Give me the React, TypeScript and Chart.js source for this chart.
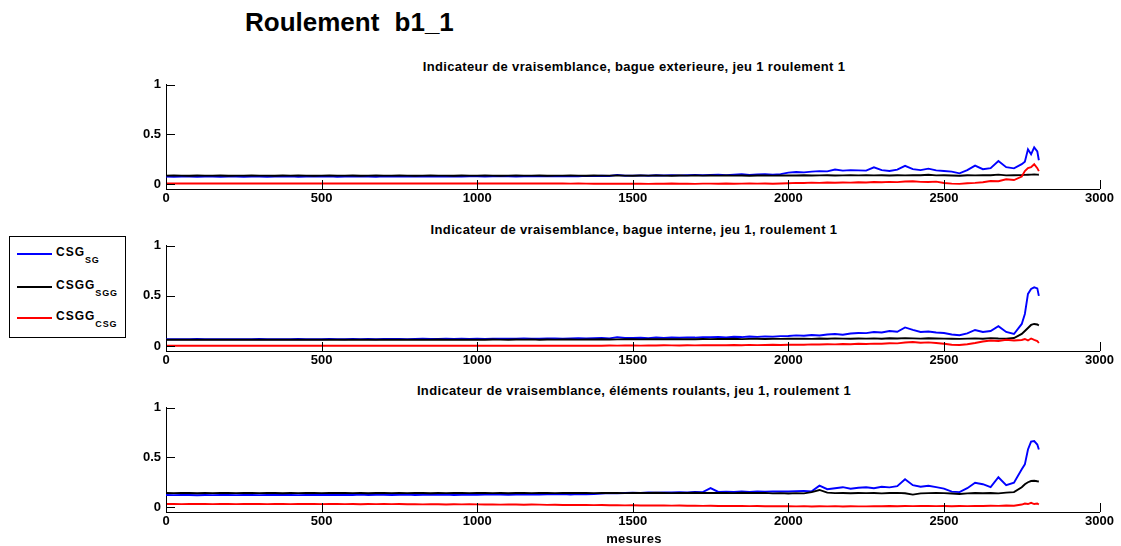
import { useEffect, useRef } from "react";
import { Chart, registerables } from "chart.js";

Chart.register(...registerables);

const FONT = "'Liberation Sans', Arial, Helvetica, sans-serif";

// measurement indices (x)
const X = [
  0, 25, 50, 75, 100, 125, 150, 175, 200, 225,
  250, 275, 300, 325, 350, 375, 400, 425, 450, 475,
  500, 525, 550, 575, 600, 625, 650, 675, 700, 725,
  750, 775, 800, 825, 850, 875, 900, 925, 950, 975,
  1000, 1025, 1050, 1075, 1100, 1125, 1150, 1175, 1200, 1225,
  1250, 1275, 1300, 1325, 1350, 1375, 1400, 1425, 1450, 1475,
  1500, 1525, 1550, 1575, 1600, 1625, 1650, 1675, 1700, 1725,
  1750, 1775, 1800, 1825, 1850, 1875, 1900, 1925, 1950, 1975,
  2000, 2025, 2050, 2075, 2100, 2125, 2150, 2175, 2200, 2225,
  2250, 2275, 2300, 2325, 2350, 2375, 2400, 2425, 2450, 2475,
  2500, 2525, 2550, 2575, 2600, 2625, 2650, 2675, 2700, 2725,
  2750, 2760, 2770, 2780, 2790, 2800, 2805,
];

const X_TICKS = [0, 500, 1000, 1500, 2000, 2500, 3000];
const Y_TICKS = [0, 0.5, 1];

// ---- subplot 1 : bague exterieure ----
const P1_BLUE = [
  .075, .074, .076, .075, .073, .076, .075, .074, .076, .075,
  .074, .076, .075, .073, .076, .075, .077, .074, .075, .076,
  .075, .077, .074, .076, .075, .078, .076, .074, .077, .075,
  .076, .078, .075, .077, .076, .079, .075, .077, .076, .078,
  .077, .076, .079, .077, .078, .076, .079, .078, .077, .080,
  .079, .078, .081, .079, .082, .080, .083, .081, .092, .084,
  .085, .087, .084, .088, .086, .090, .087, .089, .092, .088,
  .091, .093, .090, .094, .098, .092, .096, .099, .095, .100,
  .115, .122, .118, .125, .130, .128, .146, .135, .140, .138,
  .135, .168, .140, .132, .145, .183, .150, .140, .155, .138,
  .132, .125, .108, .140, .185, .150, .160, .232, .170, .158,
  .200, .225, .350, .300, .370, .330, .240,
];
const P1_BLACK = [
  .085, .086, .085, .084, .086, .085, .085, .086, .084, .085,
  .085, .086, .085, .085, .084, .086, .085, .086, .085, .084,
  .085, .086, .085, .085, .086, .084, .085, .086, .085, .085,
  .086, .085, .084, .085, .086, .085, .085, .084, .086, .085,
  .085, .086, .085, .084, .085, .086, .085, .085, .086, .084,
  .085, .085, .086, .085, .084, .086, .085, .085, .086, .085,
  .084, .086, .085, .086, .085, .084, .086, .085, .086, .085,
  .086, .085, .087, .085, .086, .084, .086, .087, .085, .086,
  .087, .086, .088, .086, .087, .088, .086, .087, .089, .087,
  .088, .087, .089, .086, .088, .087, .089, .088, .094, .087,
  .088, .086, .083, .088, .087, .089, .088, .095, .087, .089,
  .090, .092, .094, .095, .096, .095, .094,
];
const P1_RED = [
  .005, .006, .005, .005, .006, .005, .005, .005, .006, .005,
  .005, .005, .006, .005, .005, .005, .006, .005, .005, .005,
  .005, .006, .005, .005, .005, .006, .005, .005, .006, .005,
  .005, .005, .006, .005, .005, .005, .005, .006, .005, .005,
  .005, .005, .005, .006, .005, .005, .005, .005, .005, .005,
  .005, .005, .004, .005, .004, .003, .004, .003, .004, .003,
  .003, .004, .002, .004, .003, .005, .003, .004, .002, .004,
  .004, .003, .005, .003, .004, .006, .004, .005, .003, .005,
  .008, .012, .010, .014, .012, .015, .013, .016, .014, .018,
  .016, .020, .018, .022, .019, .025, .028, .022, .020, .024,
  .010, .004, .002, .008, .012, .018, .030, .028, .048, .040,
  .075, .130, .160, .170, .200, .160, .130,
];

// ---- subplot 2 : bague interne ----
const P2_BLUE = [
  .068, .069, .067, .068, .070, .068, .067, .069, .068, .067,
  .069, .068, .070, .067, .068, .069, .068, .070, .068, .069,
  .068, .070, .069, .068, .071, .069, .070, .068, .071, .070,
  .070, .069, .071, .072, .070, .071, .073, .070, .072, .071,
  .072, .071, .073, .072, .074, .072, .075, .073, .074, .076,
  .075, .074, .076, .078, .075, .077, .079, .076, .088, .080,
  .080, .082, .079, .084, .081, .085, .083, .086, .084, .088,
  .087, .090, .086, .092, .089, .094, .091, .096, .093, .098,
  .100, .106, .102, .110, .105, .115, .120, .112, .125, .130,
  .128, .140, .135, .150, .142, .185, .160, .140, .145, .135,
  .130, .115, .108, .125, .160, .140, .150, .198, .140, .120,
  .220, .320, .520, .570, .585, .575, .500,
];
const P2_BLACK = [
  .062, .063, .062, .064, .063, .062, .063, .064, .062, .063,
  .063, .062, .064, .063, .062, .063, .064, .062, .063, .064,
  .063, .064, .062, .063, .064, .063, .062, .064, .063, .062,
  .064, .063, .062, .064, .063, .065, .063, .064, .062, .063,
  .064, .063, .065, .064, .063, .065, .064, .066, .063, .065,
  .064, .066, .065, .064, .066, .065, .067, .065, .066, .068,
  .067, .066, .068, .067, .069, .068, .067, .069, .068, .070,
  .069, .071, .070, .072, .069, .071, .073, .070, .072, .071,
  .072, .074, .073, .071, .075, .073, .076, .074, .072, .075,
  .074, .076, .073, .077, .075, .078, .076, .074, .077, .075,
  .074, .072, .071, .074, .076, .073, .078, .075, .074, .080,
  .120, .150, .180, .210, .220, .215, .205,
];
const P2_RED = [
  .002, .003, .002, .002, .003, .002, .002, .003, .002, .002,
  .002, .002, .003, .002, .002, .003, .002, .002, .003, .002,
  .003, .002, .002, .003, .002, .002, .003, .002, .002, .003,
  .002, .003, .002, .002, .003, .002, .003, .002, .002, .003,
  .002, .002, .003, .002, .003, .002, .002, .003, .003, .002,
  .003, .002, .004, .003, .003, .004, .003, .005, .004, .005,
  .005, .004, .006, .005, .007, .006, .005, .007, .006, .008,
  .007, .009, .008, .010, .008, .011, .009, .010, .012, .010,
  .012, .014, .013, .016, .015, .018, .016, .020, .018, .022,
  .020, .024, .022, .028, .026, .035, .040, .032, .036, .030,
  .022, .012, .010, .018, .030, .045, .055, .050, .062, .055,
  .060, .070, .055, .075, .060, .050, .030,
];

// ---- subplot 3 : éléments roulants ----
const P3_BLUE = [
  .122, .120, .123, .121, .119, .122, .120, .123, .121, .120,
  .121, .123, .120, .122, .124, .121, .123, .120, .122, .121,
  .122, .124, .121, .123, .122, .125, .121, .123, .124, .122,
  .123, .125, .122, .124, .126, .123, .125, .122, .124, .126,
  .124, .126, .125, .127, .124, .126, .128, .125, .127, .129,
  .128, .130, .127, .131, .129, .132, .135, .140, .138, .142,
  .145, .143, .147, .144, .148, .146, .150, .148, .152, .150,
  .190, .152, .155, .151, .156, .153, .157, .154, .158, .156,
  .157, .160, .162, .158, .215, .180, .190, .200, .185, .195,
  .200, .190, .205, .198, .210, .280, .220, .205, .215, .200,
  .185, .155, .150, .190, .245, .230, .200, .300, .220, .245,
  .380, .430, .580, .660, .665, .630, .580,
];
const P3_BLACK = [
  .142, .140, .143, .141, .139, .142, .140, .143, .141, .140,
  .141, .143, .140, .142, .141, .139, .142, .140, .143, .141,
  .140, .142, .141, .143, .140, .142, .139, .141, .143, .140,
  .142, .140, .143, .141, .139, .142, .140, .141, .143, .140,
  .141, .143, .140, .142, .139, .141, .143, .140, .142, .141,
  .140, .142, .141, .143, .142, .140, .143, .141, .142, .140,
  .142, .143, .141, .144, .142, .140, .143, .141, .144, .142,
  .141, .143, .142, .140, .144, .142, .141, .143, .138, .140,
  .137, .140, .138, .150, .172, .145, .140, .142, .139, .141,
  .140, .142, .138, .141, .143, .139, .125, .138, .140, .142,
  .140, .136, .132, .138, .141, .139, .142, .138, .145, .150,
  .200, .230, .250, .262, .265, .260, .258,
];
const P3_RED = [
  .030, .031, .029, .030, .032, .030, .029, .031, .030, .029,
  .030, .031, .030, .029, .031, .030, .029, .030, .031, .030,
  .029, .030, .031, .029, .030, .028, .030, .029, .031, .029,
  .030, .028, .029, .027, .029, .028, .026, .028, .027, .029,
  .027, .025, .026, .024, .026, .025, .023, .025, .024, .022,
  .023, .021, .022, .020, .021, .019, .020, .018, .019, .017,
  .018, .016, .017, .015, .016, .014, .015, .013, .014, .012,
  .013, .011, .012, .010, .011, .009, .010, .008, .009, .008,
  .008, .007, .009, .006, .008, .007, .009, .006, .008, .007,
  .007, .009, .008, .010, .008, .011, .009, .010, .012, .009,
  .010, .008, .011, .009, .012, .010, .013, .012, .015, .013,
  .025, .035, .030, .042, .030, .035, .025,
];

const MAIN_TITLE = "Roulement b1_1";
const SUB_TITLES = [
  "Indicateur de vraisemblance, bague exterieure, jeu 1 roulement 1",
  "Indicateur de vraisemblance, bague interne, jeu 1, roulement 1",
  "Indicateur de vraisemblance, éléments roulants, jeu 1, roulement 1",
];
const X_LABEL = "mesures";
const LEGEND = [
  { main: "CSG", sub: "SG", color: "#0000ff" },
  { main: "CSGG", sub: "SGG", color: "#000000" },
  { main: "CSGG", sub: "CSG", color: "#ff0000" },
];

const inwardTicks = {
  id: "inwardTicks",
  afterDatasetsDraw(chart: any) {
    const { ctx, chartArea, scales } = chart;
    const xs = scales.x;
    const ys = scales.y;
    ctx.save();
    ctx.strokeStyle = "#000";
    ctx.lineWidth = 1;
    ctx.beginPath();
    X_TICKS.forEach((v) => {
      const px = Math.round(xs.getPixelForValue(v)) + 0.5;
      ctx.moveTo(px, chartArea.bottom);
      ctx.lineTo(px, chartArea.bottom - 9);
    });
    Y_TICKS.forEach((v) => {
      const py = Math.round(ys.getPixelForValue(v)) + 0.5;
      ctx.moveTo(chartArea.left, py);
      ctx.lineTo(chartArea.left + 9, py);
    });
    ctx.stroke();
    ctx.restore();
  },
};

const CANVAS_LEFT = 126;
const CANVAS_WIDTH = 990;

function SubPlot(props: {
  top: number;
  height: number;
  padTop: number;
  blue: number[];
  black: number[];
  red: number[];
}) {
  const ref = useRef<HTMLCanvasElement | null>(null);
  useEffect(() => {
    if (!ref.current) return;
    const tickFont = { family: FONT, size: 13, weight: "bold" as const };
    const mk = (arr: number[]) => X.map((x, i) => ({ x, y: arr[i] }));
    const chart = new Chart(ref.current, {
      type: "line",
      data: {
        datasets: [
          { label: "CSG_SG", data: mk(props.blue), borderColor: "#0000ff", borderWidth: 1.9, pointRadius: 0, tension: 0, order: 3 },
          { label: "CSGG_SGG", data: mk(props.black), borderColor: "#000000", borderWidth: 1.9, pointRadius: 0, tension: 0, order: 2 },
          { label: "CSGG_CSG", data: mk(props.red), borderColor: "#ff0000", borderWidth: 1.9, pointRadius: 0, tension: 0, order: 1 },
        ],
      },
      options: {
        animation: false,
        responsive: false,
        maintainAspectRatio: false,
        events: [],
        layout: { padding: { top: props.padTop, right: 14, bottom: 0, left: 0 } },
        plugins: { legend: { display: false }, tooltip: { enabled: false }, title: { display: false } },
        scales: {
          x: {
            type: "linear",
            min: 0,
            max: 3000,
            afterBuildTicks: (s: any) => {
              s.ticks = X_TICKS.map((v) => ({ value: v }));
            },
            afterFit: (s: any) => {
              s.height = 21;
            },
            grid: { display: false, drawTicks: false },
            border: { display: true, color: "#000", width: 1 },
            ticks: {
              color: "#000",
              font: tickFont,
              padding: 2,
              maxRotation: 0,
              autoSkip: false,
              callback: (v: any) => String(v),
            },
          },
          y: {
            type: "linear",
            min: -0.05,
            max: 1,
            afterBuildTicks: (s: any) => {
              s.ticks = Y_TICKS.map((v) => ({ value: v }));
            },
            afterFit: (s: any) => {
              s.width = 40;
            },
            grid: { display: false, drawTicks: false },
            border: { display: true, color: "#000", width: 1 },
            ticks: {
              color: "#000",
              font: tickFont,
              padding: 5,
              autoSkip: false,
              callback: (v: any) => String(v),
            },
          },
        },
      },
      plugins: [inwardTicks],
    } as any);
    return () => chart.destroy();
  }, []);
  return (
    <canvas
      ref={ref}
      width={CANVAS_WIDTH}
      height={props.height}
      style={{ position: "absolute", left: CANVAS_LEFT, top: props.top, width: CANVAS_WIDTH, height: props.height }}
    />
  );
}

const textBase: any = {
  position: "absolute",
  fontFamily: FONT,
  fontWeight: "bold",
  color: "#000",
  whiteSpace: "nowrap",
  lineHeight: 1,
};

export default function App() {
  const plots = [
    { top: 72, height: 138, padTop: 10, blue: P1_BLUE, black: P1_BLACK, red: P1_RED, titleY: 67 },
    { top: 233, height: 139, padTop: 10, blue: P2_BLUE, black: P2_BLACK, red: P2_RED, titleY: 230 },
    { top: 395, height: 138, padTop: 10, blue: P3_BLUE, black: P3_BLACK, red: P3_RED, titleY: 391 },
  ];
  const legendRows = [254, 287, 318];
  return (
    <div style={{ position: "absolute", left: 0, top: 0, width: 1121, height: 546, background: "#fff", overflow: "hidden" }}>
      <div style={{ ...textBase, left: 245, top: 9, fontSize: 26, wordSpacing: 8 }}>{MAIN_TITLE}</div>
      {plots.map((p, i) => (
        <div key={"t" + i}>
          <div
            style={{
              ...textBase,
              left: 634,
              top: p.titleY - 7,
              fontSize: 13,
              letterSpacing: 0.35,
              transform: "translateX(-50%)",
            }}
          >
            {SUB_TITLES[i]}
          </div>
          <SubPlot top={p.top} height={p.height} padTop={p.padTop} blue={p.blue} black={p.black} red={p.red} />
        </div>
      ))}
      <div style={{ ...textBase, left: 634, top: 532, fontSize: 13, letterSpacing: 0.3, transform: "translateX(-50%)" }}>
        {X_LABEL}
      </div>
      <div
        style={{
          position: "absolute",
          left: 9,
          top: 236,
          width: 115,
          height: 100,
          border: "1px solid #000",
          background: "#fff",
        }}
      />
      {LEGEND.map((l, i) => (
        <div key={"l" + i}>
          <div
            style={{
              position: "absolute",
              left: 17,
              top: legendRows[i] - 1,
              width: 35,
              height: 1.5,
              background: l.color,
            }}
          />
          <div style={{ ...textBase, left: 56, top: legendRows[i] - 8, fontSize: 12, letterSpacing: 1 }}>
            {l.main}
            <span style={{ fontSize: 9, letterSpacing: 0.8, position: "relative", top: 7 }}>{l.sub}</span>
          </div>
        </div>
      ))}
    </div>
  );
}
